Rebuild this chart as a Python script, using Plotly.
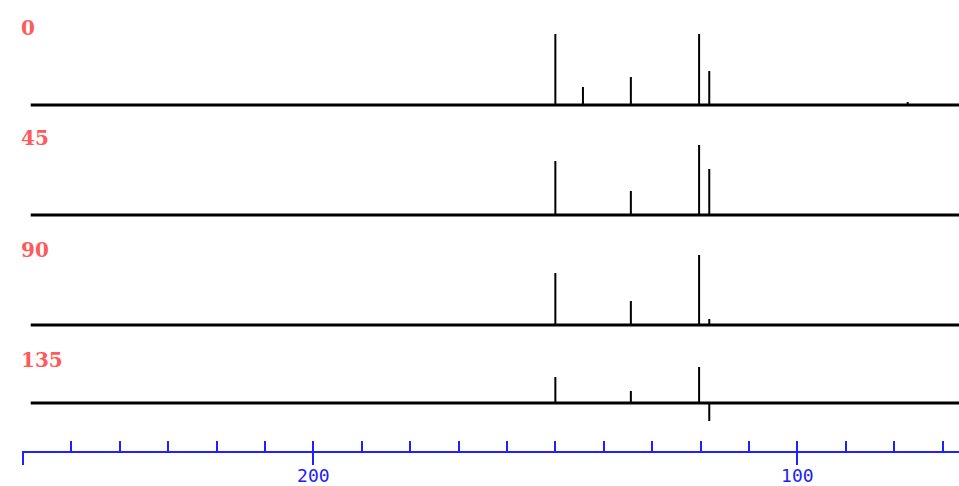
import plotly.graph_objects as go

# ---- data -------------------------------------------------------------
angles = ["0", "45", "90", "135"]
peak_ppm = [150.0, 144.3, 134.4, 120.3, 118.2, 77.2]
intens_0 = [71, 18, 28, 71, 34, 3]
intens_45 = [54, 0, 24, 70, 46, 0]
intens_90 = [52, 0, 24, 70, 6, 0]
intens_135 = [26, 0, 12, 36, -18, 0]
baseline_ppm = [258.4, 66.0]
minor_ticks = list(range(70, 261, 10))
major_ticks = [260, 200, 100]
major_labels = ["", "200", "100"]

spectra = [intens_0, intens_45, intens_90, intens_135]
# layout: vertical placement (px from top) of each trace and its label
baseline_px = [105, 215, 325, 403]
label_px = [28, 138, 250, 360]
axis_px = 452

W, H = 959, 486
x_range = [260.2, 66.6]
x_domain = [22 / W, 1.0]
lo, hi = -25, 80

fig = go.Figure()
for i, (name, vals) in enumerate(zip(angles, spectra)):
    yname = "y" if i == 0 else f"y{i+1}"
    xs, ys = [], []
    for p, v in zip(peak_ppm, vals):
        if v == 0:
            continue
        xs += [p, p, None]
        ys += [0, v, None]
    fig.add_trace(go.Scatter(x=baseline_ppm, y=[0, 0], mode="lines",
                             line=dict(color="black", width=3),
                             xaxis="x", yaxis=yname, showlegend=False,
                             hoverinfo="skip"))
    fig.add_trace(go.Scatter(x=xs, y=ys, mode="lines",
                             line=dict(color="black", width=2),
                             xaxis="x", yaxis=yname, showlegend=False,
                             name=name))
    b = baseline_px[i]
    dom = [(H - b + lo) / H, (H - b + hi) / H]
    key = "yaxis" if i == 0 else f"yaxis{i+1}"
    fig.update_layout(**{key: dict(domain=dom, range=[lo, hi], visible=False,
                                   anchor="x", fixedrange=True)})
    fig.add_annotation(text=f"<b>{name}</b>", xref="paper", yref="paper",
                       x=19 / W, y=(H - label_px[i]) / H, xanchor="left",
                       yanchor="middle", showarrow=False,
                       font=dict(family="DejaVu Serif", size=20,
                                 color="#ff5a5a"))

# dummy trace for the label axis
fig.add_trace(go.Scatter(x=[], y=[], xaxis="x2", yaxis="y", showlegend=False))

axis_pos = (H - axis_px) / H
fig.update_layout(
    width=W, height=H,
    margin=dict(l=0, r=0, t=0, b=0),
    paper_bgcolor="white", plot_bgcolor="rgba(0,0,0,0)",
    xaxis=dict(domain=x_domain, range=x_range, anchor="free", position=axis_pos,
               showline=True, linecolor="#2020ff", linewidth=2,
               ticks="inside", tickmode="array", tickvals=minor_ticks,
               ticklen=10, tickwidth=2, tickcolor="#2020ff",
               showticklabels=False, showgrid=False, zeroline=False),
    xaxis2=dict(domain=x_domain, range=x_range, anchor="free", position=axis_pos,
                overlaying="x", showline=False,
                ticks="outside", tickmode="array", tickvals=major_ticks,
                ticktext=major_labels, ticklen=12, tickwidth=2,
                tickcolor="#2020ff", showgrid=False, zeroline=False,
                ticklabelstandoff=-5,
                tickfont=dict(family="DejaVu Sans Mono", size=18,
                              color="#2020ff")),
)

fig.write_html("out.html", config={"displayModeBar": False},
               post_script="document.body.style.margin='0px';")
